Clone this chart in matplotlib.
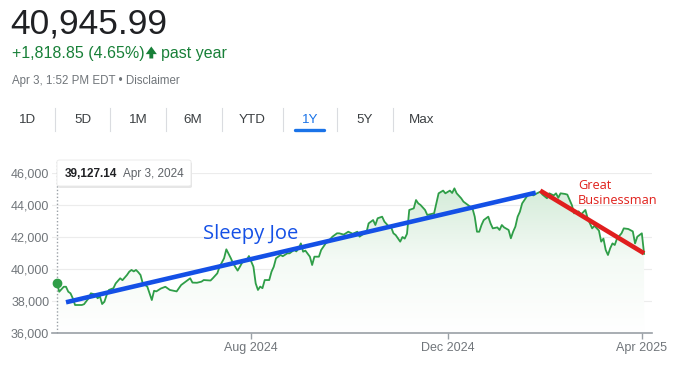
import numpy as np
import matplotlib
matplotlib.use("Agg")
import matplotlib.pyplot as plt
from matplotlib.patches import FancyBboxPatch, FancyArrowPatch
from matplotlib.colors import LinearSegmentedColormap
from matplotlib.transforms import IdentityTransform

plt.rcParams['font.family'] = ['Liberation Sans', 'DejaVu Sans']

# Veri: islem gunu numarasi ( 0 = Apr 3, 2024 ) ve endeks degeri
days = [0, 1, 3, 4, 5, 6, 7, 8, 11, 12, 14, 15, 17, 18, 19, 20, 21, 22, 23, 25,
        26, 28, 29, 31, 32, 33, 34, 35, 36, 37, 38, 40, 41, 42, 43, 44, 46, 48, 50, 53,
        55, 57, 59, 60, 62, 64, 65, 68, 69, 71, 72, 74, 75, 77, 78, 80, 81, 82, 84, 85,
        87, 88, 89, 90, 91, 92, 94, 95, 96, 97, 99, 100, 102, 103, 105, 106, 107, 108, 109, 110,
        112, 113, 114, 116, 117, 119, 120, 122, 124, 125, 127, 129, 131, 133, 134, 136, 137, 138, 140, 141,
        142, 144, 145, 147, 148, 149, 150, 152, 153, 154, 155, 156, 158, 159, 160, 161, 163, 164, 167, 168,
        169, 171, 172, 174, 175, 176, 177, 179, 180, 182, 184, 185, 186, 187, 188, 189, 191, 192, 193, 195,
        196, 197, 198, 200, 201, 202, 203, 204, 205, 206, 208, 209, 211, 212, 214, 215, 217, 218, 220, 221,
        222, 223, 225, 226, 228, 229, 231, 232, 234, 235, 237, 238, 240, 241, 242, 243, 244, 245, 246, 247,
        248, 250, 251, 253, 255, 256, 257, 259, 260]
values = [39127, 38580, 38890, 38890, 38580, 38480, 38170, 37750, 37750, 37800, 38170, 38480, 38400, 38170, 38300, 37810, 37950, 38375, 38690, 38800,
          39100, 39420, 39300, 39625, 39830, 39940, 39850, 39940, 39800, 39625, 39100, 38900, 38480, 38060, 38640, 38600, 38780, 38890, 38690, 38600,
          39000, 39210, 39420, 39150, 39140, 39210, 39310, 39280, 39420, 39730, 40140, 40670, 41230, 40670, 40350, 39900, 40140, 40400, 40560, 40810,
          40140, 39100, 38690, 38900, 38800, 39310, 39310, 39830, 40140, 40670, 40875, 40800, 40980, 40980, 41190, 41100, 41290, 41600, 41080, 41150,
          40770, 40250, 40770, 40770, 41190, 41600, 41710, 42020, 42230, 42230, 42150, 42330, 42200, 42330, 42020, 42230, 42250, 42850, 43060, 42750,
          43170, 43270, 42960, 42650, 42600, 42230, 42120, 41710, 42000, 41900, 42200, 43690, 43790, 44310, 44100, 44000, 43690, 43375, 43480, 44100,
          44730, 44900, 44730, 44900, 44750, 45040, 44730, 44420, 44210, 44000, 43790, 43270, 42330, 42330, 42750, 43060, 43270, 42850, 42540, 42600,
          42440, 42750, 42600, 42440, 41920, 42330, 42650, 43270, 43580, 44100, 44520, 44690, 44600, 44690, 44830, 44650, 44420, 44730, 44600, 44730,
          44450, 44730, 44690, 44650, 44000, 43480, 43600, 43400, 43690, 43170, 42540, 42700, 42400, 41710, 41900, 41190, 40875, 41300, 41600, 41500,
          41900, 42230, 42540, 42500, 42350, 41600, 42020, 42230, 40946]

start_date = '2024-04-03'
month_ticks = ['2024-08-01', '2024-12-01', '2025-04-01']
month_labels = ['Aug 2024', 'Dec 2024', 'Apr 2025']
y_ticks = [36000, 38000, 40000, 42000, 44000, 46000]

# Elle cizilmis trend cizgileri
joe_days = [4, 212]
joe_values = [37920, 44770]
biz_days = [214, 260]
biz_values = [44900, 40980]

ranges = ['1D', '5D', '1M', '6M', 'YTD', '1Y', '5Y', 'Max']
range_x = [28, 83, 138, 193, 252, 310, 365, 422]
sep_x = [55, 110, 166, 222, 283, 337, 393]

GREEN = '#2f9e48'
GRAY = '#70757a'

W, H = 680, 366
fig = plt.figure(figsize=(W / 100, H / 100), dpi=100)

def px(x, y):
    # piksel -> figur orani
    return x / W, 1 - y / H

# Ust bilgi
fig.text(*px(10, 34), '40,945.99', fontsize=25.5, color='#202124', va='baseline')
fig.text(*px(12, 58), '+1,818.85 (4.65%)', fontsize=11.5, color='#188038', va='baseline')
fig.add_artist(FancyArrowPatch((151.3, H - 58.5), (151.3, H - 46.5), transform=IdentityTransform(),
                               arrowstyle='simple,head_width=0.8,head_length=0.55,tail_width=0.28',
                               mutation_scale=10, shrinkA=0, shrinkB=0, color='#188038', lw=0))
fig.text(*px(161, 58), 'past year', fontsize=11.5, color='#188038', va='baseline')
fig.text(*px(12, 84), 'Apr 3, 1:52 PM EDT \u2022 Disclaimer', fontsize=8.3, color=GRAY, va='baseline')

for name, x in zip(ranges, range_x):
    c = '#1a73e8' if name == '1Y' else '#3c4043'
    fig.text(*px(x, 123), name, fontsize=9.6, color=c, ha='center', va='baseline')
for x in sep_x:
    fig.add_artist(plt.Line2D([x / W, x / W], [1 - 108 / H, 1 - 131 / H], color='#dadce0', lw=0.8))
fig.add_artist(plt.Line2D([295 / W, 324 / W], [1 - 129.5 / H, 1 - 129.5 / H], color='#1a73e8',
                          lw=2.4, solid_capstyle='round'))

# Grafik
ax = fig.add_axes([52 / W, (H - 333) / H, 600 / W, 160 / H])
x_ticks = np.busday_count(start_date, month_ticks)

grad = np.linspace(0, 1, 256).reshape(-1, 1)
cmap = LinearSegmentedColormap.from_list('g', ['#ffffff', '#f4faf5', '#d3ebd8'])
im = ax.imshow(grad, extent=[days[0], days[-1], 36000, 45200], origin='lower', aspect='auto',
               cmap=cmap, zorder=1)
poly = ax.fill_between(days, values, 36000, color='none', lw=0)
im.set_clip_path(poly.get_paths()[0], ax.transData)

ax.plot(days, values, color=GREEN, lw=1.3, zorder=3)
ax.plot(days[0], values[0], 'o', color=GREEN, ms=6, zorder=4)
ax.plot(joe_days, joe_values, color='#1450e6', lw=3.3, solid_capstyle='butt', zorder=5)
ax.plot(biz_days, biz_values, color='#e01e1e', lw=3.3, solid_capstyle='butt', zorder=5)

ax.set_xlim(-2.2, 263.5)
ax.set_ylim(36000, 46000)
ax.set_yticks(y_ticks)
ax.set_yticklabels([f'{v:,}' for v in y_ticks])
ax.set_xticks(x_ticks)
ax.set_xticklabels(month_labels)
ax.grid(axis='y', color='#ececec', lw=0.8)
ax.set_axisbelow(True)
for s in ['top', 'right', 'left']:
    ax.spines[s].set_visible(False)
ax.spines['bottom'].set_color('#9aa0a6')
ax.spines['bottom'].set_linewidth(1.2)
ax.tick_params(axis='y', length=0, pad=2, labelsize=9, labelcolor=GRAY)
ax.tick_params(axis='x', length=4.5, width=1, color='#9aa0a6', pad=2, labelsize=9, labelcolor=GRAY)
ax.axvline(0, ymin=0, ymax=1.08, color='#9aa0a6', lw=1, ls=(0, (1, 1.5)), clip_on=False, zorder=2)

# Etiketler
fig.text(*px(203, 239), 'Sleepy Joe', fontsize=14.5, color='#1450e6', va='baseline', family=['Open Sans'])
fig.text(*px(578, 189), 'Great', fontsize=9.2, color='#e0201b', va='baseline', family=['Open Sans'])
fig.text(*px(578, 204), 'Businessman', fontsize=9.2, color='#e0201b', va='baseline', family=['Open Sans'])

# Tooltip kutusu
shadow = FancyBboxPatch((58 / W, 1 - 188 / H), 134 / W, 26 / H, boxstyle='round,pad=0,rounding_size=0.004',
                        transform=fig.transFigure, facecolor='#e6e6e6', edgecolor='none', zorder=9)
box = FancyBboxPatch((57 / W, 1 - 186 / H), 134 / W, 26 / H, boxstyle='round,pad=0,rounding_size=0.004',
                     transform=fig.transFigure, facecolor='white', edgecolor='#e8e8e8', lw=0.6, zorder=10)
fig.add_artist(shadow)
fig.add_artist(box)
fig.text(*px(65, 177), '39,127.14', fontsize=8.5, color='#202124', fontweight='bold', va='baseline', zorder=11)
fig.text(*px(123, 177), 'Apr 3, 2024', fontsize=8.5, color='#5f6368', va='baseline', zorder=11)

fig.savefig('out.png', dpi=100)
